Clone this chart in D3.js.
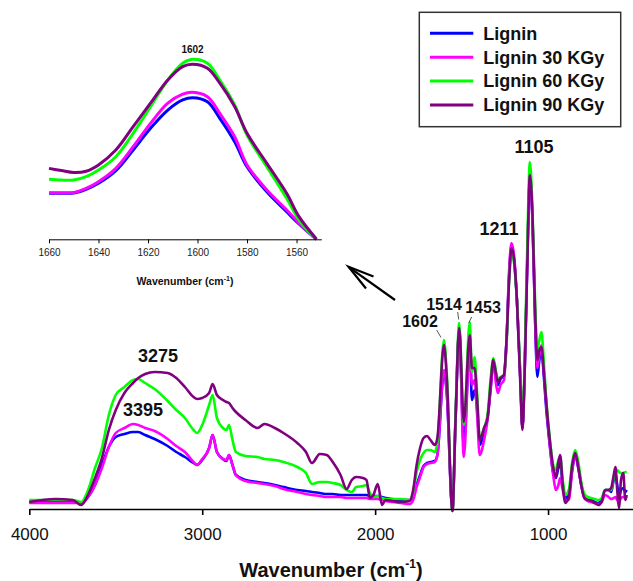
<!DOCTYPE html>
<html>
<head>
<meta charset="utf-8">
<script src="https://cdn.jsdelivr.net/npm/d3@7"></script>
<style>
  html, body { margin: 0; padding: 0; background: #fff; }
  svg { display: block; font-family: "Liberation Sans", Arial, sans-serif; }
</style>
</head>
<body>
<svg id="chart" width="633" height="581"></svg>
<script>
// FTIR spectra of lignin samples (absorbance, arbitrary units)
const wavenumbers = [4000, 3850, 3750, 3700, 3660, 3620, 3580, 3540, 3500, 3450, 3400, 3370, 3330, 3275, 3200, 3150, 3100, 3050, 3030, 3000,
  2960, 2940, 2915, 2880, 2860, 2845, 2825, 2805, 2750, 2680, 2640, 2580, 2530, 2450, 2400, 2365, 2320, 2280, 2245, 2200,
  2165, 2135, 2110, 2070, 2050, 2030, 2010, 1985, 1960, 1940, 1900, 1850, 1800, 1780, 1760, 1740, 1720, 1700, 1680, 1655,
  1640, 1602, 1585, 1553, 1535, 1514, 1487, 1453, 1440, 1425, 1410, 1395, 1370, 1350, 1330, 1317, 1300, 1290, 1275, 1255,
  1240, 1225, 1211, 1195, 1180, 1160, 1148, 1135, 1120, 1105, 1090, 1075, 1062, 1050, 1038, 1025, 1010, 990, 970, 955,
  940, 930, 915, 900, 880, 860, 843, 825, 808, 790, 770, 750, 730, 710, 690, 670, 650, 635, 620, 610,
  600, 590, 578, 565, 553, 545];

const lignin = [0.07, 0.07, 0.07, 0.06, 0.12, 0.24, 0.44, 0.62, 0.72, 0.75, 0.77, 0.77, 0.74, 0.70, 0.63, 0.57, 0.52, 0.46, 0.44, 0.49,
  0.61, 0.74, 0.57, 0.50, 0.48, 0.54, 0.44, 0.34, 0.29, 0.27, 0.26, 0.24, 0.22, 0.19, 0.18, 0.17, 0.16, 0.15, 0.15, 0.14,
  0.14, 0.14, 0.14, 0.14, 0.14, 0.13, 0.13, 0.13, 0.12, 0.11, 0.10, 0.09, 0.09, 0.13, 0.24, 0.34, 0.43, 0.46, 0.47, 0.48,
  0.54, 1.37, 1.14, -0.01, 0.89, 1.79, 0.64, 1.64, 1.09, 1.19, 0.99, 0.64, 0.76, 0.91, 1.24, 1.47, 1.34, 1.24, 1.30, 1.34,
  1.69, 2.34, 2.63, 2.47, 2.09, 1.29, 0.81, 1.39, 2.49, 3.29, 2.89, 1.89, 1.32, 1.49, 1.59, 1.34, 0.99, 0.64, 0.36, 0.31,
  0.41, 0.47, 0.24, 0.11, 0.14, 0.39, 0.54, 0.41, 0.24, 0.12, 0.09, 0.09, 0.07, 0.06, 0.09, 0.19, 0.19, 0.17, 0.29, 0.34,
  0.24, 0.12, 0.19, 0.21, 0.17, 0.19];

const lignin30 = [0.06, 0.06, 0.06, 0.06, 0.12, 0.24, 0.41, 0.62, 0.76, 0.81, 0.85, 0.84, 0.81, 0.78, 0.70, 0.63, 0.57, 0.47, 0.44, 0.50,
  0.61, 0.74, 0.57, 0.50, 0.49, 0.54, 0.44, 0.34, 0.28, 0.26, 0.25, 0.23, 0.20, 0.17, 0.15, 0.14, 0.13, 0.12, 0.12, 0.12,
  0.11, 0.11, 0.11, 0.11, 0.11, 0.10, 0.10, 0.10, 0.09, 0.08, 0.07, 0.06, 0.05, 0.09, 0.22, 0.32, 0.42, 0.45, 0.46, 0.47,
  0.54, 1.39, 1.14, -0.02, 0.89, 1.79, 0.52, 1.64, 1.24, 1.29, 0.94, 0.54, 0.69, 0.89, 1.24, 1.47, 1.24, 1.16, 1.24, 1.29,
  1.69, 2.39, 2.66, 2.51, 2.09, 1.29, 0.81, 1.39, 2.49, 3.31, 2.89, 1.91, 1.41, 1.54, 1.64, 1.39, 1.04, 0.64, 0.34, 0.19,
  0.24, 0.31, 0.19, 0.09, 0.09, 0.39, 0.54, 0.41, 0.24, 0.11, 0.08, 0.07, 0.06, 0.05, 0.07, 0.14, 0.12, 0.10, 0.11, 0.12,
  0.09, 0.07, 0.11, 0.12, 0.11, 0.10];

const lignin60 = [0.09, 0.09, 0.09, 0.07, 0.19, 0.41, 0.61, 0.94, 1.14, 1.22, 1.29, 1.30, 1.26, 1.20, 1.08, 0.99, 0.91, 0.79, 0.76, 0.84,
  1.04, 1.14, 0.91, 0.81, 0.79, 0.84, 0.69, 0.57, 0.53, 0.52, 0.50, 0.49, 0.47, 0.42, 0.36, 0.25, 0.27, 0.27, 0.26, 0.24,
  0.19, 0.17, 0.22, 0.23, 0.24, 0.16, 0.12, 0.13, 0.11, 0.10, 0.10, 0.10, 0.09, 0.17, 0.37, 0.49, 0.56, 0.59, 0.59, 0.57,
  0.67, 1.69, 1.34, -0.02, 0.94, 1.86, 0.84, 1.87, 1.37, 1.52, 1.14, 0.71, 0.81, 0.94, 1.34, 1.51, 1.37, 1.29, 1.32, 1.34,
  1.64, 2.29, 2.57, 2.44, 2.09, 1.34, 0.84, 1.49, 2.64, 3.47, 2.99, 2.09, 1.59, 1.69, 1.77, 1.49, 1.09, 0.71, 0.44, 0.39,
  0.49, 0.52, 0.29, 0.14, 0.19, 0.47, 0.59, 0.47, 0.27, 0.15, 0.12, 0.11, 0.10, 0.09, 0.11, 0.19, 0.19, 0.19, 0.31, 0.36,
  0.39, 0.37, 0.36, 0.36, 0.37, 0.37];

const lignin90 = [0.07, 0.10, 0.09, 0.04, 0.14, 0.31, 0.51, 0.79, 0.99, 1.16, 1.26, 1.31, 1.35, 1.37, 1.36, 1.31, 1.22, 1.12, 1.10, 1.11,
  1.16, 1.25, 1.14, 1.09, 1.07, 1.06, 1.01, 0.97, 0.89, 0.81, 0.85, 0.81, 0.76, 0.66, 0.57, 0.46, 0.55, 0.54, 0.47, 0.34,
  0.20, 0.29, 0.32, 0.31, 0.29, 0.11, 0.14, 0.25, 0.04, 0.09, 0.08, 0.07, 0.08, 0.19, 0.44, 0.61, 0.71, 0.73, 0.69, 0.64,
  0.71, 1.64, 1.29, -0.02, 0.89, 1.81, 0.87, 1.74, 1.41, 1.41, 1.09, 0.69, 0.81, 0.91, 1.29, 1.49, 1.34, 1.27, 1.31, 1.34,
  1.69, 2.29, 2.61, 2.47, 2.09, 1.24, 0.79, 1.39, 2.44, 3.34, 2.94, 1.99, 1.49, 1.59, 1.62, 1.39, 1.06, 0.69, 0.41, 0.32,
  0.47, 0.54, 0.24, 0.06, 0.12, 0.44, 0.56, 0.42, 0.24, 0.11, 0.09, 0.08, 0.06, 0.04, 0.07, 0.19, 0.19, 0.21, 0.34, 0.42,
  0.19, 0.01, 0.29, 0.36, 0.09, 0.14];

// Close-up of the 1602 cm-1 aromatic band (normalised to the inset's own range)
const insetWavenumbers = [1660, 1655, 1650, 1645, 1640, 1633, 1626, 1619, 1612, 1606, 1602, 1596, 1591, 1585, 1580, 1572, 1564, 1559, 1552];
const insetLignin   = [0.256, 0.256, 0.257, 0.278, 0.311, 0.381, 0.496, 0.617, 0.718, 0.774, 0.787, 0.764, 0.672, 0.542, 0.403, 0.264, 0.153, 0.085, 0.0];
const insetLignin30 = [0.259, 0.259, 0.260, 0.283, 0.320, 0.394, 0.514, 0.644, 0.756, 0.806, 0.817, 0.792, 0.700, 0.570, 0.413, 0.274, 0.163, 0.090, 0.0];
const insetLignin60 = [0.333, 0.329, 0.329, 0.348, 0.385, 0.459, 0.589, 0.737, 0.885, 0.978, 1.000, 0.978, 0.885, 0.746, 0.579, 0.403, 0.228, 0.107, 0.0];
const insetLignin90 = [0.394, 0.382, 0.371, 0.378, 0.413, 0.496, 0.626, 0.756, 0.885, 0.959, 0.972, 0.950, 0.867, 0.737, 0.589, 0.422, 0.256, 0.126, 0.002];

const seriesNames = ["Lignin", "Lignin 30 KGy", "Lignin 60 KGy", "Lignin 90 KGy"];
const seriesColors = ["#0000ff", "#ff00ff", "#00ff00", "#800080"];
const mainTicks = [4000, 3000, 2000, 1000];
const insetTicks = [1660, 1640, 1620, 1600, 1580, 1560];
const peakNames = ["3275", "3395", "1105", "1211", "1602", "1514", "1453"];

const svg = d3.select("#chart");
const mainSeries = [lignin, lignin30, lignin60, lignin90];
const insetSeries = [insetLignin, insetLignin30, insetLignin60, insetLignin90];

// ---- main spectrum ----
const x = d3.scaleLinear().domain([4000, 500]).range([29.3, 634.5]);
const y = d3.scaleLinear().domain([0, 3.5]).range([509, 159]);

const line = d3.line()
  .x((d, i) => x(wavenumbers[i]))
  .y(d => y(d))
  .curve(d3.curveMonotoneX);

const mainG = svg.append("g");
mainSeries.forEach((s, k) => {
  mainG.append("path")
    .datum(s)
    .attr("fill", "none")
    .attr("stroke", seriesColors[k])
    .attr("stroke-width", 2.6)
    .attr("stroke-linejoin", "round")
    .attr("d", line);
});

const xAxis = svg.append("g")
  .attr("transform", `translate(0,${y(0)})`)
  .call(d3.axisBottom(x).tickValues(mainTicks).tickSize(6).tickSizeOuter(0).tickFormat(d3.format("d")));
xAxis.select(".domain").attr("stroke", "#000").attr("stroke-width", 1.6);
xAxis.selectAll(".tick line").attr("stroke", "#000").attr("stroke-width", 1.6);
xAxis.selectAll(".tick text")
  .attr("fill", "#111")
  .attr("font-size", 17)
  .attr("font-family", "Liberation Sans, Arial, sans-serif")
  .attr("dy", 0)
  .attr("y", 31);

const xTitle = svg.append("text")
  .attr("x", 331)
  .attr("y", 577)
  .attr("text-anchor", "middle")
  .attr("font-size", 20)
  .attr("font-weight", "bold")
  .attr("fill", "#111");
xTitle.append("tspan").text("Wavenumber (cm");
xTitle.append("tspan").attr("font-size", 12).attr("dy", -9).text("-1");
xTitle.append("tspan").attr("dy", 9).text(")");

// Peak labels (text anchor positions)
const labelPos = {
  "3275": [158, 362, 18], "3395": [143, 416, 18], "1105": [534, 153, 18], "1211": [499, 235, 18],
  "1602": [420, 327, 16], "1514": [444, 310, 16], "1453": [483, 313, 16]
};
peakNames.forEach(name => {
  const [lx, ly, fs] = labelPos[name];
  svg.append("text")
    .attr("x", lx).attr("y", ly)
    .attr("text-anchor", "middle")
    .attr("font-size", fs)
    .attr("font-weight", "bold")
    .attr("fill", "#111")
    .text(name);
});
// leader lines for the crowded aromatic bands
[[436.7, 330, 441, 337.5], [457.7, 312, 458.7, 319.5], [471.7, 317, 468.7, 323]].forEach(l => {
  svg.append("line")
    .attr("x1", l[0]).attr("y1", l[1]).attr("x2", l[2]).attr("y2", l[3])
    .attr("stroke", "#444").attr("stroke-width", 0.9);
});

// Arrow pointing to the inset
svg.append("line").attr("x1", 395).attr("y1", 300).attr("x2", 348.5).attr("y2", 266.8)
  .attr("stroke", "#000").attr("stroke-width", 2.2);
svg.append("polyline")
  .attr("points", "373.5,276.5 348.5,266.8 366,288.5")
  .attr("fill", "none").attr("stroke", "#000").attr("stroke-width", 2.2).attr("stroke-linejoin", "miter");

// ---- inset: 1602 band ----
const ix = d3.scaleLinear().domain([1660, 1550]).range([49, 321.3]);
const iy = d3.scaleLinear().domain([0, 1]).range([239.3, 59.3]);
const iline = d3.line()
  .x((d, i) => ix(insetWavenumbers[i]))
  .y(d => iy(d))
  .curve(d3.curveCatmullRom.alpha(0.5));

insetSeries.forEach((s, k) => {
  svg.append("path")
    .datum(s)
    .attr("fill", "none")
    .attr("stroke", seriesColors[k])
    .attr("stroke-width", 3)
    .attr("d", iline);
});

const ixAxis = svg.append("g")
  .attr("transform", `translate(0,${iy(0)})`)
  .call(d3.axisBottom(ix).tickValues(insetTicks).tickSize(4).tickSizeOuter(0).tickFormat(d3.format("d")));
ixAxis.select(".domain").attr("stroke", "#000").attr("stroke-width", 1);
ixAxis.selectAll(".tick line").attr("stroke", "#000").attr("stroke-width", 1);
ixAxis.selectAll(".tick text")
  .attr("fill", "#222")
  .attr("font-size", 10)
  .attr("font-family", "Liberation Sans, Arial, sans-serif")
  .attr("dy", 0)
  .attr("y", 17);

const ixTitle = svg.append("text")
  .attr("x", 185).attr("y", 285)
  .attr("text-anchor", "middle")
  .attr("font-size", 10.5)
  .attr("font-weight", "bold")
  .attr("fill", "#111");
ixTitle.append("tspan").text("Wavenumber (cm");
ixTitle.append("tspan").attr("font-size", 7).attr("dy", -4).text("-1");
ixTitle.append("tspan").attr("dy", 4).text(")");

svg.append("text")
  .attr("x", ix(1602)).attr("y", 52.5)
  .attr("text-anchor", "middle")
  .attr("font-size", 10)
  .attr("font-weight", "bold")
  .attr("fill", "#111")
  .text("1602");

// ---- legend ----
const legend = svg.append("g").attr("transform", "translate(419.3,12.3)");
legend.append("rect")
  .attr("width", 201.4).attr("height", 114.4)
  .attr("fill", "#fff").attr("stroke", "#333").attr("stroke-width", 1.5);
seriesNames.forEach((name, k) => {
  const ry = 21 + k * 23.9;
  legend.append("line")
    .attr("x1", 10.7).attr("x2", 54)
    .attr("y1", ry).attr("y2", ry)
    .attr("stroke", seriesColors[k]).attr("stroke-width", 3);
  legend.append("text")
    .attr("x", 64).attr("y", ry + 6.4)
    .attr("font-size", 18)
    .attr("font-weight", "bold")
    .attr("fill", "#111")
    .text(name);
});
</script>
</body>
</html>
